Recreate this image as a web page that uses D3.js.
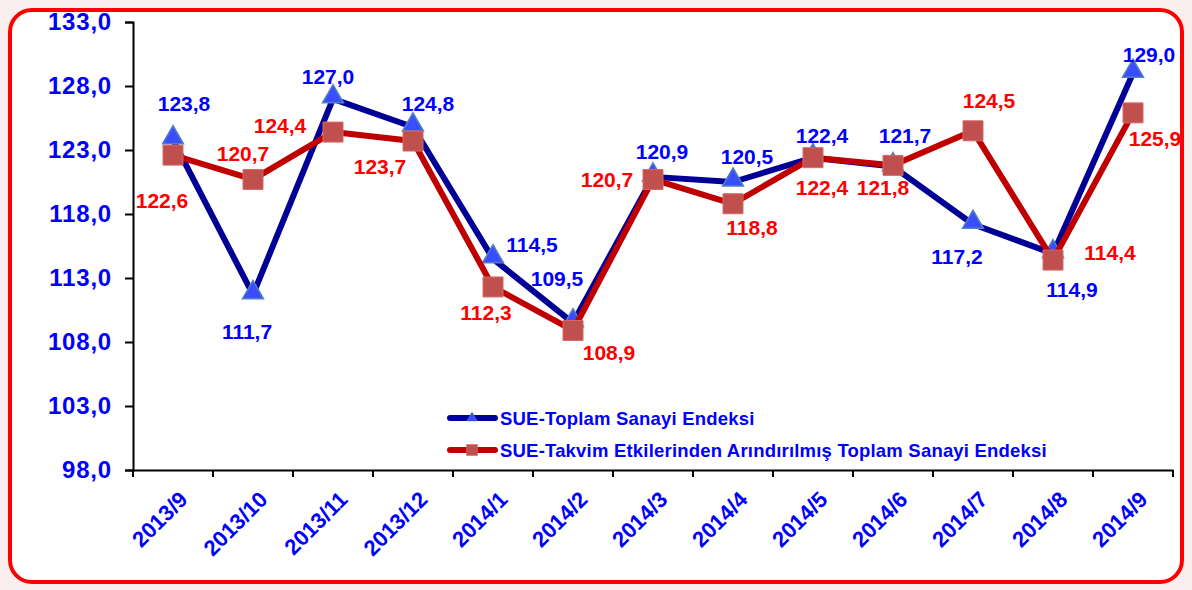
<!DOCTYPE html>
<html>
<head>
<meta charset="utf-8">
<script src="https://cdn.jsdelivr.net/npm/d3@7"></script>
<style>
  body { margin: 0; background: #fbeeee; }
  svg { display: block; font-family: "Liberation Sans", Arial, sans-serif; }
</style>
</head>
<body>
<svg id="chart"></svg>
<script>
// Data
const months = ["2013/9", "2013/10", "2013/11", "2013/12", "2014/1", "2014/2", "2014/3",
    "2014/4", "2014/5", "2014/6", "2014/7", "2014/8", "2014/9"];
const toplam = [123.8, 111.7, 127.0, 124.8, 114.5, 109.5, 120.9, 120.5, 122.4, 121.7, 117.2, 114.9, 129.0];
const takvim = [122.6, 120.7, 124.4, 123.7, 112.3, 108.9, 120.7, 118.8, 122.4, 121.8, 124.5, 114.4, 125.9];
const yTicks = [98, 103, 108, 113, 118, 123, 128, 133];
const seriesNames = ["SUE-Toplam Sanayi Endeksi",
    "SUE-Takvim Etkilerinden Arındırılmış Toplam Sanayi Endeksi"];

const width = 1192;
const height = 590;
const margin = ({top: 22, right: 19, bottom: 120, left: 133});

// where each value label sits relative to its marker
const blueLabel = [[11, -36], [-6, 37], [-5, -22], [15, -24], [39, -14], [-16, -44], [9, -25],
    [14, -26], [9, -22], [12, -31], [-16, 32], [19, 36], [16, -19]];
const redLabel = [[-11, 45], [-10, -26], [-53, -7], [-33, 25], [-7, 25], [36, 22], [-46, 0],
    [19, 24], [9, 30], [-10, 22], [16, -30], [57, -8], [22, 26]];

const fmt = v => d3.format(".1f")(v).replace(".", ",");

const x = d3.scaleBand()
    .domain(months)
    .range([margin.left, width - margin.right]);
const y = d3.scaleLinear()
    .domain([98, 133])
    .range([height - margin.bottom, margin.top]);

const svg = d3.select("#chart")
    .attr("width", width)
    .attr("height", height);

svg.append("rect")
    .attr("x", 10).attr("y", 10)
    .attr("width", width - 20).attr("height", height - 18)
    .attr("rx", 22)
    .attr("fill", "#fff")
    .attr("stroke", "#ff0000")
    .attr("stroke-width", 4);

// axes
svg.append("g")
    .attr("transform", `translate(${margin.left},0)`)
    .call(d3.axisLeft(y).tickValues(yTicks).tickFormat(fmt).tickSize(8).tickPadding(13))
    .call(g => g.selectAll("path, line").attr("stroke", "#000").attr("stroke-width", 2))
    .call(g => g.selectAll("text")
        .attr("fill", "#0000ff")
        .attr("font-size", 24)
        .attr("font-weight", "bold")
        .attr("letter-spacing", 0.8)
        .attr("font-family", "Liberation Sans, Arial, sans-serif"));

svg.append("g")
    .attr("transform", `translate(0,${height - margin.bottom})`)
    .call(d3.axisBottom(x).tickSize(0).tickFormat(""))
    .call(g => g.select(".domain").attr("stroke", "#000").attr("stroke-width", 2))
    .call(g => g.append("g")
        .selectAll("line")
        .data(d3.range(months.length + 1))
        .join("line")
        .attr("x1", i => margin.left + i * x.step())
        .attr("x2", i => margin.left + i * x.step())
        .attr("y1", 0)
        .attr("y2", 7)
        .attr("stroke", "#000")
        .attr("stroke-width", 2));

svg.append("g")
    .selectAll("text")
    .data(months)
    .join("text")
    .attr("transform", d => `translate(${x(d) + x.bandwidth() / 2 + 5},${height - margin.bottom + 20}) rotate(-45)`)
    .attr("text-anchor", "end")
    .attr("dy", "0.7em")
    .attr("fill", "#0000ff")
    .attr("font-size", 22)
    .attr("font-weight", "bold")
    .text(d => d);

const cx = i => x(months[i]) + x.bandwidth() / 2;
const line = d3.line().x((d, i) => cx(i)).y(d => y(d));

const tri = d3.symbol().type(d3.symbolTriangle).size(190);
const sq = d3.symbol().type(d3.symbolSquare).size(400);

// blue series
svg.append("path")
    .datum(toplam)
    .attr("fill", "none")
    .attr("stroke", "#000096")
    .attr("stroke-width", 6)
    .attr("stroke-linejoin", "round")
    .attr("d", line);
svg.append("g")
    .selectAll("path")
    .data(toplam)
    .join("path")
    .attr("transform", (d, i) => `translate(${cx(i)},${y(d) - 2})`)
    .attr("fill", "#3a4dff")
    .attr("stroke", "#4f81bd")
    .attr("stroke-width", 1.5)
    .attr("d", tri);

// red series
svg.append("path")
    .datum(takvim)
    .attr("fill", "none")
    .attr("stroke", "#c00000")
    .attr("stroke-width", 6)
    .attr("stroke-linejoin", "round")
    .attr("d", line);
svg.append("g")
    .selectAll("path")
    .data(takvim)
    .join("path")
    .attr("transform", (d, i) => `translate(${cx(i)},${y(d)})`)
    .attr("fill", "#c0504d")
    .attr("stroke", "#d46a67")
    .attr("stroke-width", 1)
    .attr("d", sq);

// value labels
const labels = (vals, offs, color) => svg.append("g")
    .attr("font-size", 21)
    .attr("font-weight", "bold")
    .attr("fill", color)
    .attr("text-anchor", "middle")
    .selectAll("text")
    .data(vals)
    .join("text")
    .attr("x", (d, i) => cx(i) + offs[i][0])
    .attr("y", (d, i) => y(d) + offs[i][1])
    .attr("dy", "0.36em")
    .text(fmt);
labels(toplam, blueLabel, "#0000ff");
labels(takvim, redLabel, "#ff0000");

// legend
const legend = svg.append("g")
    .attr("transform", "translate(450,418)");
const items = [
    {name: seriesNames[0], stroke: "#000096", sym: tri, fill: "#3a4dff", mstroke: "#4f81bd", size: 0.5},
    {name: seriesNames[1], stroke: "#c00000", sym: sq, fill: "#c0504d", mstroke: "#d46a67", size: 0.55}
];
const row = legend.selectAll("g")
    .data(items)
    .join("g")
    .attr("transform", (d, i) => `translate(0,${i * 32})`);
row.append("line")
    .attr("x1", 0).attr("x2", 45)
    .attr("stroke", d => d.stroke)
    .attr("stroke-width", 6)
    .attr("stroke-linecap", "round");
row.append("path")
    .attr("transform", d => `translate(22,0) scale(${d.size})`)
    .attr("fill", d => d.fill)
    .attr("stroke", d => d.mstroke)
    .attr("d", d => d.sym());
row.append("text")
    .attr("x", 50)
    .attr("dy", "0.36em")
    .attr("fill", "#0000ff")
    .attr("font-size", 18.5)
    .attr("font-weight", "bold")
    .attr("letter-spacing", 0.2)
    .text(d => d.name);
</script>
</body>
</html>
